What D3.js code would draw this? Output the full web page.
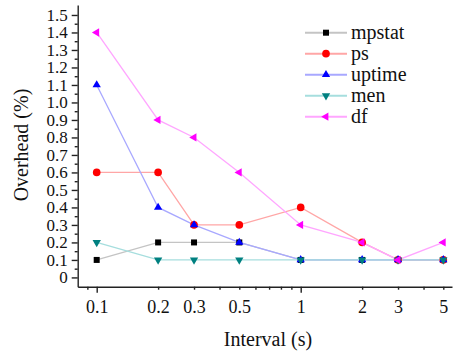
<!DOCTYPE html>
<html>
<head>
<meta charset="utf-8">
<script src="https://cdn.jsdelivr.net/npm/d3@7"></script>
<style>
  body { margin: 0; background: #fff; }
  text { font-family: "Liberation Serif", "Times New Roman", serif; fill: #111; }
</style>
</head>
<body>
<div id="chart"></div>
<script>
const width = 453;
const height = 353;

// data
const intervals = [0.1, 0.2, 0.3, 0.5, 1, 2, 3, 5];
const mpstat = [0.1, 0.2, 0.2, 0.2, 0.1, 0.1, 0.1, 0.1];
const ps     = [0.6, 0.6, 0.3, 0.3, 0.4, 0.2, 0.1, 0.1];
const uptime = [1.1, 0.4, 0.3, 0.2, 0.1, 0.1, 0.1, 0.1];
const men    = [0.2, 0.1, 0.1, 0.1, 0.1, 0.1, 0.1, 0.1];
const df     = [1.4, 0.9, 0.8, 0.6, 0.3, 0.2, 0.1, 0.2];
const yTicks = [0, 0.1, 0.2, 0.3, 0.4, 0.5, 0.6, 0.7, 0.8, 0.9, 1.0, 1.1, 1.2, 1.3, 1.4, 1.5];
const xMinor = [0.09, 0.2, 0.3, 0.4, 0.5, 0.6, 0.7, 0.8, 0.9, 2, 3, 4, 5];

const series = [
  { name: "mpstat", values: mpstat, line: "#c4c4c4", fill: "#000000", shape: d3.symbolSquare, size: 36, rot: 0 },
  { name: "ps",     values: ps,     line: "#ffa6a6", fill: "#ff0000", shape: d3.symbolCircle, size: 46, rot: 0 },
  { name: "uptime", values: uptime, line: "#a8a8ff", fill: "#0000ff", shape: d3.symbolTriangle, size: 30, rot: 0 },
  { name: "men",    values: men,    line: "#a6dede", fill: "#008080", shape: d3.symbolTriangle, size: 30, rot: 180 },
  { name: "df",     values: df,     line: "#ffa6ff", fill: "#ff00ff", shape: d3.symbolTriangle, size: 30, rot: -90 }
];

const svg = d3.select("#chart")
  .append("svg")
  .attr("width", width)
  .attr("height", height);

// scales
const x = d3.scaleLog()
  .domain([0.0807, 5.516])
  .range([77.7, 452]);

const y = d3.scaleLinear()
  .domain([-0.053, 1.557])
  .range([286.7, 5]);

// y axis: minor ticks every 0.05, major every 0.1
svg.append("g")
  .attr("transform", "translate(77.7,0)")
  .call(d3.axisLeft(y).tickValues(d3.range(0.05, 1.55, 0.1)).tickSize(3).tickFormat(""))
  .call(g => g.select(".domain").remove());

svg.append("g")
  .attr("transform", "translate(77.7,0)")
  .attr("font-family", null)
  .call(d3.axisLeft(y).tickValues(yTicks).tickSize(6).tickSizeOuter(0).tickPadding(4)
    .tickFormat(d => d === 0 ? "0" : d3.format(".1f")(d)))
  .attr("font-family", "Liberation Serif, serif")
  .attr("font-size", 17);

// x axis
svg.append("g")
  .attr("transform", "translate(0,286.7)")
  .call(d3.axisBottom(x).tickValues(xMinor).tickSize(3).tickFormat(""))
  .call(g => g.select(".domain").remove());

svg.append("g")
  .attr("transform", "translate(0,286.7)")
  .call(d3.axisBottom(x).tickValues([0.1, 1]).tickSize(6).tickSizeOuter(0).tickFormat(""));

svg.append("g")
  .attr("transform", "translate(0,286.7)")
  .call(d3.axisBottom(x).tickValues(intervals).tickSize(0).tickPadding(14)
    .tickFormat(d => String(d)))
  .attr("font-family", "Liberation Serif, serif")
  .attr("font-size", 18)
  .call(g => g.select(".domain").remove());

svg.selectAll(".domain, .tick line")
  .attr("stroke", "#222")
  .attr("stroke-width", 1.4);

// axis titles
svg.append("text")
  .attr("x", 268)
  .attr("y", 346)
  .attr("text-anchor", "middle")
  .style("font-size", "20px")
  .text("Interval (s)");

svg.append("text")
  .attr("transform", "translate(28,145) rotate(-90)")
  .attr("text-anchor", "middle")
  .style("font-size", "20px")
  .text("Overhead (%)");

// lines
const line = d3.line()
  .x((d, i) => x(intervals[i]))
  .y(d => y(d));

series.forEach(s => {
  svg.append("path")
    .datum(s.values)
    .attr("fill", "none")
    .attr("stroke", s.line)
    .attr("stroke-width", 1.3)
    .attr("d", line);
});

// markers
series.forEach(s => {
  svg.append("g")
    .selectAll("path")
    .data(s.values)
    .enter()
    .append("path")
    .attr("d", d3.symbol().type(s.shape).size(s.size))
    .attr("transform", (d, i) => `translate(${x(intervals[i])},${y(d)}) rotate(${s.rot})`)
    .attr("fill", s.fill);
});

// legend
const legend = svg.append("g")
  .selectAll("g")
  .data(series)
  .enter()
  .append("g")
  .attr("transform", (d, i) => `translate(0,${32.7 + i * 21})`);

legend.append("line")
  .attr("x1", 305)
  .attr("x2", 347)
  .attr("stroke", d => d.line)
  .attr("stroke-width", 2);

legend.append("path")
  .attr("d", d => d3.symbol().type(d.shape).size(d.size)())
  .attr("transform", d => `translate(326,0) rotate(${d.rot})`)
  .attr("fill", d => d.fill);

legend.append("text")
  .attr("x", 351)
  .attr("dy", "0.3em")
  .style("font-size", "20px")
  .text(d => d.name);
</script>
</body>
</html>
